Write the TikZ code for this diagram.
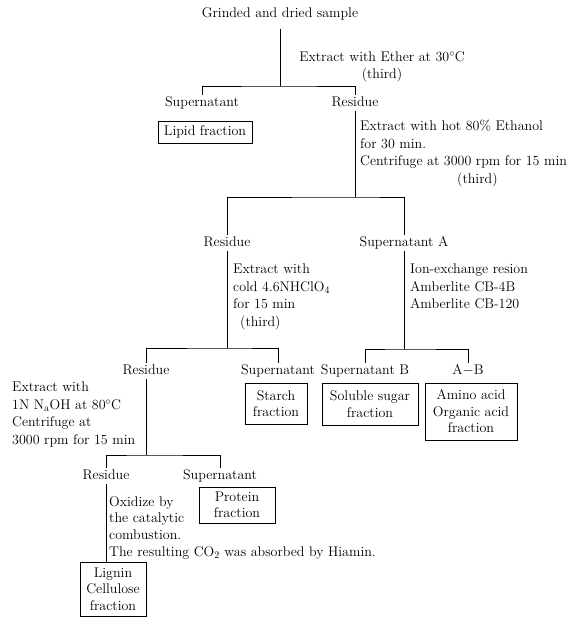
\documentclass[tikz,border=0pt]{standalone}
\begin{document}
\begin{tikzpicture}
	[x=1pt,y=-1pt,
	 every node/.style={font=\fontsize{14}{17.5}\selectfont},
	 lbl/.style={inner sep=1.5pt,text height=9.5pt,text depth=2.5pt},
	 note/.style={anchor=north west,align=left,inner sep=2pt},
	 box/.style={draw,line width=0.8pt,align=center,inner sep=1pt,font=\fontsize{14}{16.5}\selectfont},
	 link/.style={line width=0.8pt}]
	\useasboundingbox (0,0) rectangle (578,617);

	\node[lbl] (sample) at (280,14) {Grinded and dried sample};
	\coordinate (j1) at (280,86);
	\node[align=center,inner sep=2pt] (ether) at (382,67) {Extract with Ether at 30$^\circ$C\\(third)};

	\node[lbl] (sup1) at (202,103) {Supernatant};
	\node[lbl] (res1) at (355,103) {Residue};
	\node[box,minimum width=94pt,minimum height=22pt] (lipid) at (205,132) {Lipid fraction};
	\node[note] (ethanol) at (358,118) {Extract with hot 80\% Ethanol\\for 30 min.\\Centrifuge at 3000 rpm for 15 min\\\hspace*{97pt}(third)};

	\coordinate (j2) at (355,197);
	\node[lbl] (res2) at (227,243) {Residue};
	\node[lbl] (supA) at (404,243) {Supernatant A};
	\node[note] (cold) at (231,262) {Extract with\\cold 4.6NHClO$_4$\\for 15 min\\\hspace*{7pt}(third)};
	\node[note] (ion) at (408,262) {Ion-exchange resion\\Amberlite CB-4B\\Amberlite CB-120};

	\coordinate (j3) at (227,348);
	\coordinate (j4) at (404,349);
	\node[lbl] (res3) at (146,371) {Residue};
	\node[lbl] (sup3) at (278,371) {Supernatant};
	\node[lbl] (supB) at (365,371) {Supernatant B};
	\node[lbl] (amb) at (468,371) {A$-$B};
	\node[box,minimum width=62pt,minimum height=41pt] (starch) at (276,403.5) {Starch\\fraction};
	\node[box,minimum width=96pt,minimum height=42pt] (sugar) at (370,404) {Soluble sugar\\fraction};
	\node[box,minimum width=92pt,minimum height=57pt] (amino) at (471,411.5) {Amino acid\\Organic acid\\fraction};
	\node[note] (naoh) at (10,380) {Extract with\\1N N$_{\mathrm{a}}$OH at 80$^\circ$C\\Centrifuge at\\3000 rpm for 15 min};

	\coordinate (j5) at (146,455);
	\node[lbl] (res4) at (106,476) {Residue};
	\node[lbl] (sup4) at (220,476) {Supernatant};
	\node[box,minimum width=76pt,minimum height=36pt] (protein) at (237,505) {Protein\\fraction};
	\node[note,font=\fontsize{14}{16.8}\selectfont] (oxid) at (107,494) {Oxidize by\\the catalytic\\combustion.\\The resulting CO$_2$ was absorbed by Hiamin.};
	\node[box,minimum width=66pt,minimum height=54pt] (lignin) at (113,589) {Lignin\\Cellulose\\fraction};

	\draw[link,shorten <=7pt] (sample.south) -- (j1);
	\draw[link] (sup1.north) |- (j1) -| (res1.north);
	\draw[link] (res1.south) -- (j2);
	\draw[link] (res2.north) |- (j2) -| (supA.north);
	\draw[link] (res2.south) -- (j3);
	\draw[link] (res3.north) |- (j3) -| (sup3.north);
	\draw[link] (supA.south) -- (j4);
	\draw[link] (supB.north) |- (j4) -| (amb.north);
	\draw[link] (res3.south) -- (j5);
	\draw[link] (res4.north) |- (j5) -| (sup4.north);
	\draw[link] (res4.south) -- (res4.south |- lignin.north);
\end{tikzpicture}
\end{document}
